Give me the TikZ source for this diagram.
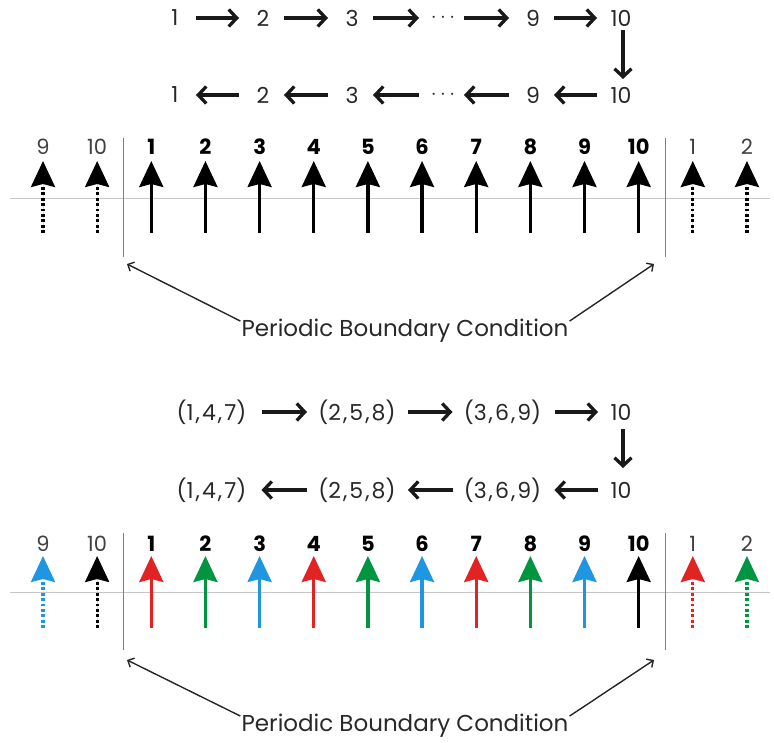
\documentclass[tikz,border=0pt]{standalone}
\usepackage{fontspec}
\setmainfont{Poppins}
\usetikzlibrary{arrows.meta}
\definecolor{sred}{RGB}{225,35,35}
\definecolor{sgreen}{RGB}{0,150,65}
\definecolor{sblue}{RGB}{30,150,225}
\definecolor{txt}{RGB}{40,40,40}
\newcommand{\cm}{\hspace{2pt},\hspace{2pt}}
\tikzset{
  chainarrow/.style={line width=3.3pt, draw=black!90, -{Straight Barb[length=8pt,width=17pt]}},
  cnum/.style={font=\fontsize{22}{22}\selectfont, text=txt, inner sep=0pt},
  lbold/.style={font=\fontsize{21}{21}\selectfont\bfseries, inner sep=0pt},
  llight/.style={font=\fontsize{21}{21}\selectfont, text=black!75, inner sep=0pt},
  spinarrow/.style={line width=3.2pt, -{Stealth[length=26pt,width=24pt,inset=3pt]}},
  solidshaft/.style={},
  dotshaft/.style={dash pattern=on 2.8pt off 2.6pt},
  hline/.style={draw=black!22, line width=0.9pt},
  vline/.style={draw=black!50, line width=0.9pt},
  pbctext/.style={font=\fontsize{23}{23}\selectfont, text=txt, inner sep=0pt},
  pbcarrow/.style={line width=1.4pt, draw=black!85, -{Straight Barb[length=5pt,width=10pt]}}
}
\begin{document}
\begin{tikzpicture}[x=1pt,y=-1pt]
\useasboundingbox (0,0) rectangle (774,743);

% ---------- top chain ----------
\node[cnum] (a1) at (175,18) {1};
\node[cnum] (a2) at (263,18) {2};
\node[cnum] (a3) at (352,18) {3};
\node[cnum] (ad) at (443,18) {$\cdots$};
\node[cnum] (a9) at (533,18) {9};
\node[cnum] (a10) at (621,18) {10};
\node[cnum] (b1) at (175,95) {1};
\node[cnum] (b2) at (263,95) {2};
\node[cnum] (b3) at (352,95) {3};
\node[cnum] (bd) at (443,95) {$\cdots$};
\node[cnum] (b9) at (533,95) {9};
\node[cnum] (b10) at (621,95) {10};
\foreach \p/\q in {a1/a2,a2/a3,a3/ad,ad/a9,a9/a10}
  \draw[chainarrow] ([xshift=21pt]\p.center) -- ([xshift=-24pt]\q.center);
\foreach \p/\q in {b2/b1,b3/b2,bd/b3,b9/bd,b10/b9}
  \draw[chainarrow] ([xshift=-24pt]\p.center) -- ([xshift=21pt]\q.center);
\draw[chainarrow] ([xshift=2pt,yshift=-12pt]a10.center) -- ([xshift=2pt,yshift=16pt]b10.center);

% ---------- top spin row ----------
\draw[hline] (10,198) -- (770,198);
\draw[vline] (123,138) -- (123,257);
\draw[vline] (665,138) -- (665,257);
\foreach \lab/\col/\sh/\ls [count=\i from 0] in {9/black/dotshaft/llight,10/black/dotshaft/llight,1/black/solidshaft/lbold,2/black/solidshaft/lbold,3/black/solidshaft/lbold,4/black/solidshaft/lbold,5/black/solidshaft/lbold,6/black/solidshaft/lbold,7/black/solidshaft/lbold,8/black/solidshaft/lbold,9/black/solidshaft/lbold,10/black/solidshaft/lbold,1/black/dotshaft/llight,2/black/dotshaft/llight} {
  \pgfmathsetmacro\xx{43+54.15*\i}
  \node[\ls] (tl\i) at (\xx,147) {\lab};
  \coordinate (tb\i) at (\xx,233);
  \coordinate (tt\i) at (\xx,161);
  \draw[spinarrow,\sh,draw=\col,fill=\col] (tb\i) -- (tt\i);
}
\node[pbctext] (pbc1) at (405,331) {Periodic Boundary Condition};
\coordinate (pl1) at (127,264);
\coordinate (pr1) at (654,264);
\draw[pbcarrow] ([xshift=-1pt,yshift=-2pt]pbc1.north west) -- (pl1);
\draw[pbcarrow] ([xshift=1pt,yshift=-2pt]pbc1.north east) -- (pr1);

% ---------- bottom chain ----------
\node[cnum] (c1) at (211.5,412) {(1\cm4\cm7)};
\node[cnum] (c2) at (357,412) {(2\cm5\cm8)};
\node[cnum] (c3) at (502.5,412) {(3\cm6\cm9)};
\node[cnum] (c10) at (621,412) {10};
\node[cnum] (d1) at (211.5,490) {(1\cm4\cm7)};
\node[cnum] (d2) at (357,490) {(2\cm5\cm8)};
\node[cnum] (d3) at (502.5,490) {(3\cm6\cm9)};
\node[cnum] (d10) at (621,490) {10};
\foreach \p/\q/\s/\e in {c1/c2/50/50,c2/c3/51/50,c3/c10/52/23}
  \draw[chainarrow] ([xshift=\s pt]\p.center) -- ([xshift=-\e pt]\q.center);
\foreach \p/\q/\s/\e in {d2/d1/50/50,d3/d2/50/51,d10/d3/23/52}
  \draw[chainarrow] ([xshift=-\s pt]\p.center) -- ([xshift=\e pt]\q.center);
\draw[chainarrow] ([xshift=2pt,yshift=-17pt]c10.center) -- ([xshift=2pt,yshift=22pt]d10.center);

% ---------- bottom spin row ----------
\draw[hline] (10,592) -- (770,592);
\draw[vline] (123,533) -- (123,650);
\draw[vline] (665,533) -- (665,650);
\foreach \lab/\col/\sh/\ls [count=\i from 0] in {9/sblue/dotshaft/llight,10/black/dotshaft/llight,1/sred/solidshaft/lbold,2/sgreen/solidshaft/lbold,3/sblue/solidshaft/lbold,4/sred/solidshaft/lbold,5/sgreen/solidshaft/lbold,6/sblue/solidshaft/lbold,7/sred/solidshaft/lbold,8/sgreen/solidshaft/lbold,9/sblue/solidshaft/lbold,10/black/solidshaft/lbold,1/sred/dotshaft/llight,2/sgreen/dotshaft/llight} {
  \pgfmathsetmacro\xx{43+54.15*\i}
  \node[\ls] (bl\i) at (\xx,544) {\lab};
  \coordinate (bb\i) at (\xx,628);
  \coordinate (bt\i) at (\xx,556);
  \draw[spinarrow,\sh,draw=\col,fill=\col] (bb\i) -- (bt\i);
}
\node[pbctext] (pbc2) at (405,726) {Periodic Boundary Condition};
\coordinate (pl2) at (127,660);
\coordinate (pr2) at (654,660);
\draw[pbcarrow] ([xshift=-1pt,yshift=-2pt]pbc2.north west) -- (pl2);
\draw[pbcarrow] ([xshift=1pt,yshift=-2pt]pbc2.north east) -- (pr2);
\end{tikzpicture}
\end{document}
